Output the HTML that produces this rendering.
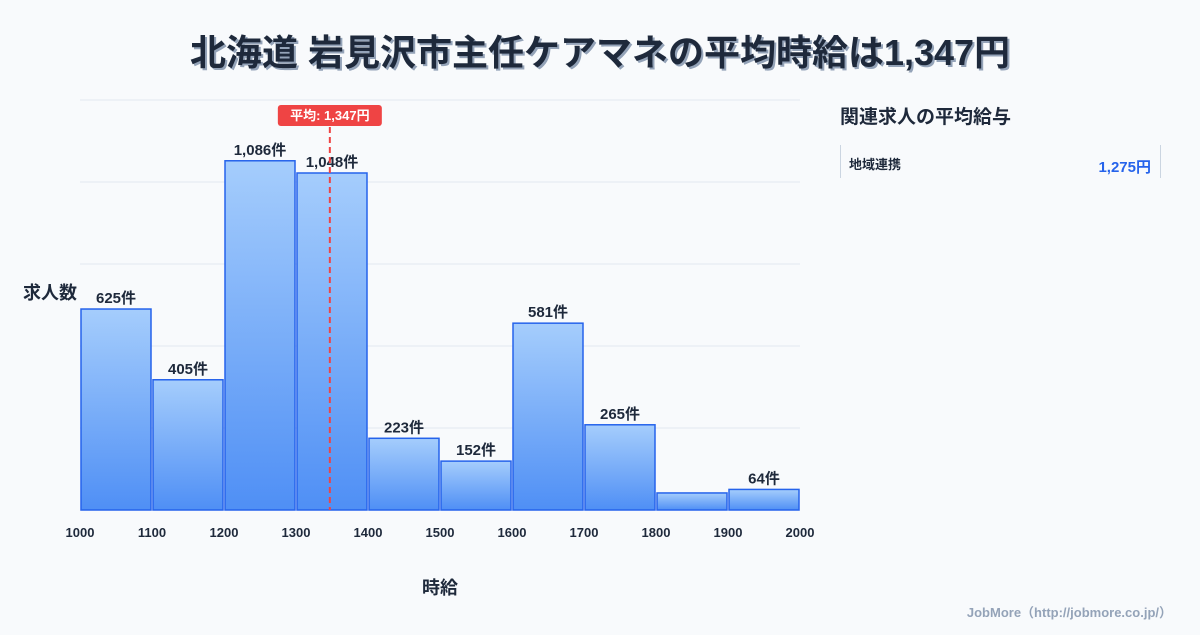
<!DOCTYPE html>
<html><head><meta charset="utf-8">
<style>
body{margin:0;background:#f8fafc;font-family:"Liberation Sans","Noto Sans CJK JP",sans-serif;}
svg text{font-family:"Liberation Sans","Noto Sans CJK JP",sans-serif;}
</style></head>
<body>
<svg id="c" width="1200" height="630" viewBox="0 0 1200 630">
<defs>
<linearGradient id="g" x1="0" y1="0" x2="0" y2="1">
<stop offset="0" stop-color="#a5cdfc"/><stop offset="1" stop-color="#4f8ff5"/>
</linearGradient>
</defs>
<rect width="1200" height="630" fill="#f8fafc"/>
<text x="602" y="67" text-anchor="middle" font-size="36" font-weight="bold" fill="#94a3b8">北海道 岩見沢市主任ケアマネの平均時給は1,347円</text>
<text x="600" y="65" text-anchor="middle" font-size="36" font-weight="bold" fill="#1e293b">北海道 岩見沢市主任ケアマネの平均時給は1,347円</text>
<g id="grid"></g>
<g id="bars"></g>
<g id="xt"></g>
<text x="440" y="594" text-anchor="middle" font-size="18" font-weight="bold" fill="#1e293b">時給</text>
<text x="50" y="299" text-anchor="middle" font-size="18" font-weight="bold" fill="#1e293b">求人数</text>
<g id="avg"></g>
<text x="840" y="123" font-size="19" font-weight="bold" fill="#1e293b">関連求人の平均給与</text>
<line x1="840.5" y1="145" x2="840.5" y2="178" stroke="#cbd5e1"/>
<line x1="1160.5" y1="145" x2="1160.5" y2="178" stroke="#cbd5e1"/>
<text x="849" y="169" font-size="13" font-weight="bold" fill="#1e293b">地域連携</text>
<text x="1151" y="172" text-anchor="end" font-size="15" font-weight="bold" fill="#2563eb">1,275円</text>
<text x="1172" y="617" text-anchor="end" font-size="13" font-weight="bold" fill="#94a3b8">JobMore（http://jobmore.co.jp/）</text>
</svg>
<script>
const binStarts=[1000,1100,1200,1300,1400,1500,1600,1700,1800,1900];
const counts=[625,405,1086,1048,223,152,581,265,53,64];
const showLabel=[true,true,true,true,true,true,true,true,false,true];
const xTicks=[1000,1100,1200,1300,1400,1500,1600,1700,1800,1900,2000];
const yGrid=[0,255,510,765,1020,1275];
const avgWage=1347;
const NS='http://www.w3.org/2000/svg';
const x=v=>80+(v-1000)*0.72;
const y=v=>510-v*(410/1275);
function mk(t,a,p){const e=document.createElementNS(NS,t);for(const k in a)e.setAttribute(k,a[k]);p.appendChild(e);return e;}
const grid=document.getElementById('grid');
yGrid.forEach(v=>{const l=mk('line',{x1:80,x2:800,y1:y(v),y2:y(v),stroke:'#e2e8f0'},grid);

});
const bars=document.getElementById('bars');
binStarts.forEach((b,i)=>{
const r=mk('rect',{x:x(b)+1,y:y(counts[i]),width:x(b+100)-x(b)-2,height:510-y(counts[i]),fill:'url(#g)',stroke:'#2563eb','stroke-width':1.5},bars);


if(showLabel[i]){const t=mk('text',{x:x(b+50),y:y(counts[i])-6,'text-anchor':'middle','font-size':15,'font-weight':'bold',fill:'#1e293b'},bars);
t.textContent=counts[i].toLocaleString('en-US')+'件';

}
});
const xt=document.getElementById('xt');
xTicks.forEach(v=>{const t=mk('text',{x:x(v),y:537,'text-anchor':'middle','font-size':13,'font-weight':'bold',fill:'#1e293b'},xt);
t.textContent=v;

});
const ag=document.getElementById('avg');const ax=x(avgWage);
const al=mk('line',{x1:ax,x2:ax,y1:117,y2:510,stroke:'#ef4444','stroke-width':2,'stroke-dasharray':'6,4'},ag);


const ab=mk('rect',{x:ax-52,y:105,width:104,height:21,rx:3,fill:'#ef4444'},ag);


const at=mk('text',{x:ax,y:120,'text-anchor':'middle','font-size':13,'font-weight':'bold',fill:'#fff'},ag);
at.textContent='平均: '+avgWage.toLocaleString('en-US')+'円';


</script>
</body></html>
